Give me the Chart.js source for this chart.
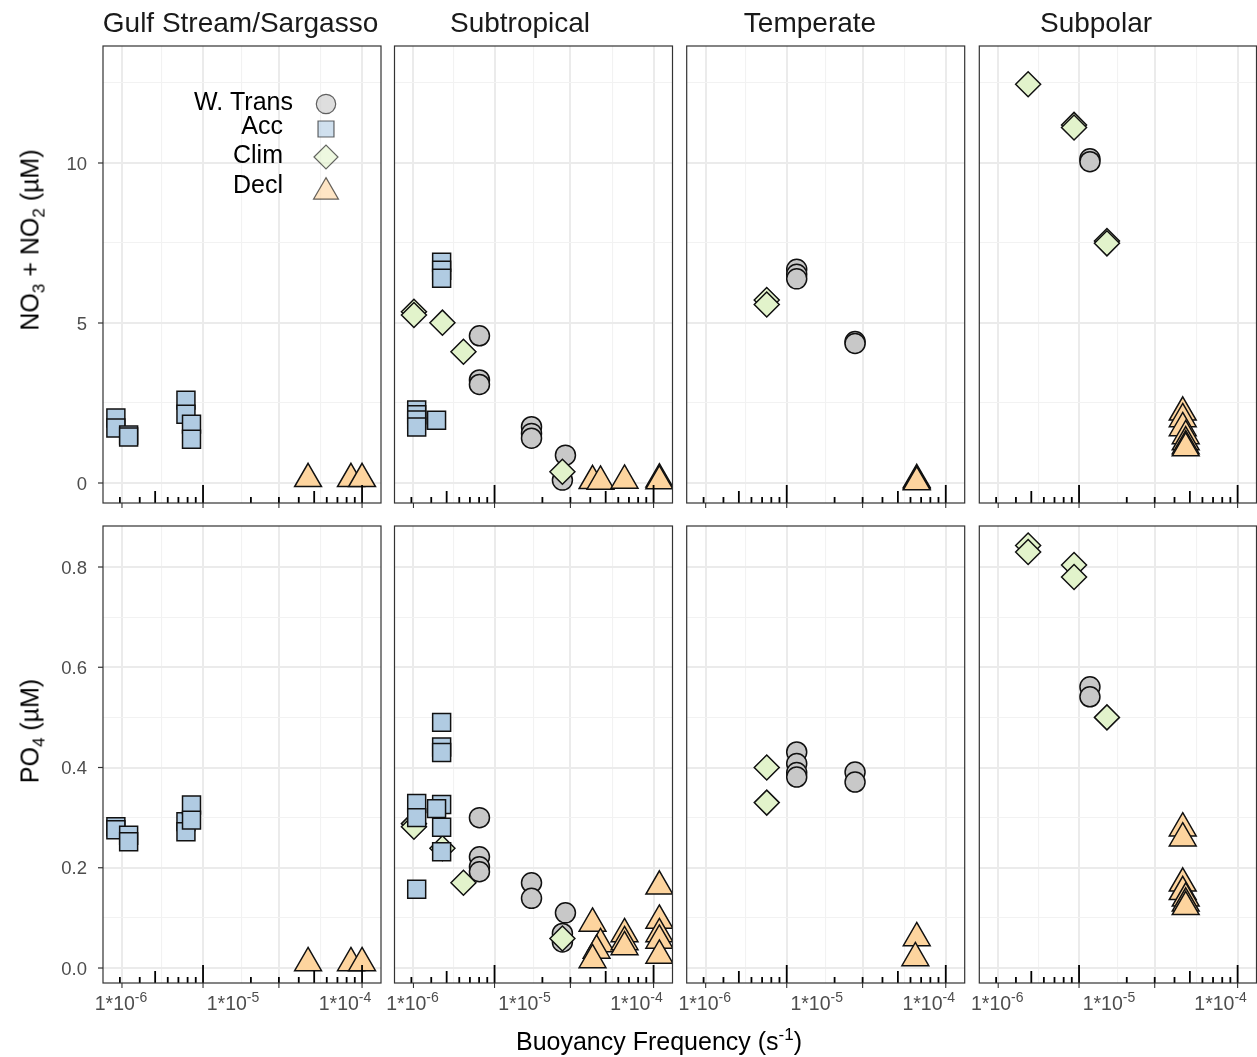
<!DOCTYPE html>
<html>
<head>
<meta charset="utf-8">
<script src="https://cdn.jsdelivr.net/npm/chart.js@4.4.1/dist/chart.umd.min.js"></script>
<style>
  body { margin: 0; background: #fff; font-family: "Liberation Sans", Arial, sans-serif; }
  #page { position: relative; width: 1257px; height: 1057px; overflow: hidden; }
  #page canvas { position: absolute; left: 0; top: 0; }
  .txt { position: absolute; white-space: nowrap; line-height: 1; transform: translate(-50%, -50%); }
  .strip { font-size: 28px; color: #1a1a1a; }
  .axtitle { font-size: 25px; color: #000; }
  .ytitle { transform: translate(-50%, -50%) rotate(-90deg); }
  sub, sup { font-size: 68%; line-height: 0; }
</style>
</head>
<body>
<div id="page">
  <div class="txt strip" style="left:240.5px; top:23px">Gulf Stream/Sargasso</div>
  <div class="txt strip" style="left:520px; top:23px">Subtropical</div>
  <div class="txt strip" style="left:810px; top:23px">Temperate</div>
  <div class="txt strip" style="left:1096px; top:23px">Subpolar</div>
  <div class="txt axtitle ytitle" style="left:30px; top:240px">NO<sub>3</sub> + NO<sub>2</sub> (µM)</div>
  <div class="txt axtitle ytitle" style="left:30px; top:731px">PO<sub>4</sub> (µM)</div>
  <div class="txt axtitle" style="left:659px; top:1041px">Buoyancy Frequency (s<sup>-1</sup>)</div>
</div>
<script>
const phases = ['W. Trans', 'Acc', 'Clim', 'Decl'];

// rows are [phase, buoyancy frequency (s^-1), concentration (µM)]
const gulfNitrate = [
  ['Acc', 9.0e-7, 2.03], ['Acc', 9.0e-7, 1.72], ['Acc', 1.17e-6, 1.50], ['Acc', 1.17e-6, 1.44],
  ['Acc', 3.8e-6, 2.59], ['Acc', 3.8e-6, 2.15], ['Acc', 4.26e-6, 1.84], ['Acc', 4.26e-6, 1.37],
  ['Decl', 4.68e-5, 0.13], ['Decl', 1.13e-4, 0.13], ['Decl', 1.42e-4, 0.13]
];
const gulfPhosphate = [
  ['Acc', 9.0e-7, 0.282], ['Acc', 9.0e-7, 0.276], ['Acc', 1.17e-6, 0.265], ['Acc', 1.17e-6, 0.252],
  ['Acc', 3.8e-6, 0.292], ['Acc', 3.8e-6, 0.272], ['Acc', 4.26e-6, 0.325], ['Acc', 4.26e-6, 0.295],
  ['Decl', 4.68e-5, 0.010], ['Decl', 1.13e-4, 0.010], ['Decl', 1.42e-4, 0.010]
];
const subtropNitrate = [
  ['W. Trans', 3.96e-6, 4.60], ['W. Trans', 3.96e-6, 3.22], ['W. Trans', 3.96e-6, 3.08],
  ['W. Trans', 1.155e-5, 1.76], ['W. Trans', 1.155e-5, 1.55], ['W. Trans', 1.155e-5, 1.40],
  ['W. Trans', 2.32e-5, 0.87], ['W. Trans', 2.18e-5, 0.09],
  ['Acc', 1.82e-6, 6.90], ['Acc', 1.82e-6, 6.65], ['Acc', 1.82e-6, 6.40],
  ['Acc', 1.09e-6, 2.28], ['Acc', 1.09e-6, 2.13], ['Acc', 1.09e-6, 1.97], ['Acc', 1.09e-6, 1.75],
  ['Acc', 1.64e-6, 1.96],
  ['Clim', 1.03e-6, 5.35], ['Clim', 1.03e-6, 5.25], ['Clim', 1.85e-6, 5.01], ['Clim', 2.85e-6, 4.10],
  ['Clim', 2.18e-5, 0.35],
  ['Decl', 4.05e-5, 0.07], ['Decl', 4.77e-5, 0.05], ['Decl', 7.82e-5, 0.08],
  ['Decl', 1.6e-4, 0.12], ['Decl', 1.6e-4, 0.06]
];
const subtropPhosphate = [
  ['W. Trans', 3.96e-6, 0.300], ['W. Trans', 3.96e-6, 0.222], ['W. Trans', 3.96e-6, 0.202],
  ['W. Trans', 3.96e-6, 0.192], ['W. Trans', 1.155e-5, 0.170], ['W. Trans', 1.155e-5, 0.139],
  ['W. Trans', 2.32e-5, 0.110], ['W. Trans', 2.18e-5, 0.069], ['W. Trans', 2.18e-5, 0.052],
  ['Acc', 1.82e-6, 0.490], ['Acc', 1.82e-6, 0.441], ['Acc', 1.82e-6, 0.430], ['Acc', 1.82e-6, 0.326],
  ['Acc', 1.64e-6, 0.318], ['Acc', 1.82e-6, 0.281], ['Acc', 1.82e-6, 0.232],
  ['Acc', 1.09e-6, 0.328], ['Acc', 1.09e-6, 0.300], ['Acc', 1.09e-6, 0.157],
  ['Clim', 1.03e-6, 0.288], ['Clim', 1.03e-6, 0.282], ['Clim', 1.85e-6, 0.239], ['Clim', 2.85e-6, 0.170],
  ['Clim', 2.18e-5, 0.059],
  ['Decl', 4.05e-5, 0.089], ['Decl', 4.77e-5, 0.048], ['Decl', 4.4e-5, 0.035], ['Decl', 4.05e-5, 0.016],
  ['Decl', 7.82e-5, 0.068], ['Decl', 7.82e-5, 0.052], ['Decl', 7.82e-5, 0.042],
  ['Decl', 1.6e-4, 0.163], ['Decl', 1.6e-4, 0.095], ['Decl', 1.6e-4, 0.068], ['Decl', 1.6e-4, 0.055],
  ['Decl', 1.6e-4, 0.025]
];
const temperateNitrate = [
  ['W. Trans', 6.63e-6, 6.68], ['W. Trans', 6.63e-6, 6.52], ['W. Trans', 6.63e-6, 6.38],
  ['W. Trans', 2.2e-5, 4.42], ['W. Trans', 2.2e-5, 4.36],
  ['Clim', 3.58e-6, 5.72], ['Clim', 3.58e-6, 5.58],
  ['Decl', 7.82e-5, 0.10], ['Decl', 7.82e-5, 0.06], ['Decl', 7.82e-5, 0.03]
];
const temperatePhosphate = [
  ['W. Trans', 6.63e-6, 0.431], ['W. Trans', 6.63e-6, 0.408], ['W. Trans', 6.63e-6, 0.390],
  ['W. Trans', 6.63e-6, 0.381], ['W. Trans', 2.2e-5, 0.391], ['W. Trans', 2.2e-5, 0.371],
  ['Clim', 3.58e-6, 0.400], ['Clim', 3.58e-6, 0.330],
  ['Decl', 7.82e-5, 0.060], ['Decl', 7.6e-5, 0.020]
];
const subpolarNitrate = [
  ['W. Trans', 6.76e-6, 10.13], ['W. Trans', 6.76e-6, 10.04],
  ['Clim', 1.89e-6, 12.46], ['Clim', 4.87e-6, 11.19], ['Clim', 4.87e-6, 11.11],
  ['Clim', 9.6e-6, 7.56], ['Clim', 9.6e-6, 7.49],
  ['Decl', 4.58e-5, 2.21], ['Decl', 4.58e-5, 2.00], ['Decl', 4.58e-5, 1.72], ['Decl', 4.87e-5, 1.47],
  ['Decl', 4.87e-5, 1.28], ['Decl', 4.87e-5, 1.16], ['Decl', 4.87e-5, 1.09]
];
const subpolarPhosphate = [
  ['W. Trans', 6.76e-6, 0.561], ['W. Trans', 6.76e-6, 0.541],
  ['Clim', 1.89e-6, 0.843], ['Clim', 1.89e-6, 0.830], ['Clim', 4.87e-6, 0.804], ['Clim', 4.87e-6, 0.780],
  ['Clim', 9.6e-6, 0.500],
  ['Decl', 4.58e-5, 0.279], ['Decl', 4.58e-5, 0.259], ['Decl', 4.58e-5, 0.169], ['Decl', 4.58e-5, 0.152],
  ['Decl', 4.87e-5, 0.139], ['Decl', 4.87e-5, 0.129], ['Decl', 4.87e-5, 0.122]
];

const nitrateByRegion = [gulfNitrate, subtropNitrate, temperateNitrate, subpolarNitrate];
const phosphateByRegion = [gulfPhosphate, subtropPhosphate, temperatePhosphate, subpolarPhosphate];

// x axis (shared by every facet)
const xMin = 6.906e-7, xMax = 2.096e-4;
const xLabelExponents = [-6, -5, -4];
const xGridMajor = [1.02e-6, 5.4e-6, 2.57e-5, 1.42e-4];
const xGridMinor = [2.32e-6, 1.2e-5, 6.1e-5];
const logTickAnchors = [5.4e-6, 1.42e-4];
const logTickSpan = 1.42;

// y axes, one per row
const nitrateRange = [-0.625, 13.656];
const nitrateMajor = [0, 5, 10];
const nitrateMinor = [2.5, 7.5, 12.5];
const phosphateRange = [-0.0299, 0.8818];
const phosphateMajor = [0, 0.2, 0.4, 0.6, 0.8];
const phosphateMinor = [0.1, 0.3, 0.5, 0.7];

// marker styles
const phaseFill = ['#c8c8c8', '#b0cbe2', '#e2f3cb', '#fdd49e'];
const phaseShape = ['circle', 'rect', 'rectRot', 'triangle'];
const phaseRadius = [10, 12.7, 12.5, 15.5];
const phaseOrder = [4, 2, 3, 1];

const panelLefts = [103, 394.5, 686.7, 979.3];
const rowTops = [46, 526];
const panelW = 278, panelH = 457;
const pageW = 1257, pageH = 1057;

const labelFont = '19.5px "Liberation Sans", Arial, sans-serif';
const supFont = '14px "Liberation Sans", Arial, sans-serif';
const yLabelFont = '18.5px "Liberation Sans", Arial, sans-serif';

const panelDecor = {
  id: 'panelDecor',
  afterDatasetsDraw(chart, args, opts) {
    const { ctx, chartArea: a } = chart;
    const x = chart.scales.x, y = chart.scales.y;
    ctx.save();

    // log ticks along the bottom edge
    ctx.strokeStyle = '#000';
    ctx.lineWidth = 1.8;
    logTickAnchors.forEach(anchor => {
      const top = Math.log10(anchor);
      for (let m = 2; m <= 10; m++) {
        const px = x.getPixelForValue(Math.pow(10, top - logTickSpan + logTickSpan * Math.log10(m)));
        if (px < a.left || px > a.right) continue;
        const len = m === 10 ? 18 : (m === 5 ? 12 : 6);
        ctx.beginPath();
        ctx.moveTo(px, a.bottom);
        ctx.lineTo(px, a.bottom - len);
        ctx.stroke();
      }
    });

    // axis ticks under the panel
    ctx.strokeStyle = '#333';
    ctx.lineWidth = 1.1;
    xGridMajor.forEach(v => {
      const px = x.getPixelForValue(v);
      ctx.beginPath();
      ctx.moveTo(px, a.bottom);
      ctx.lineTo(px, a.bottom + 5);
      ctx.stroke();
    });

    // panel border
    ctx.strokeStyle = '#333';
    ctx.lineWidth = 1.2;
    ctx.strokeRect(a.left, a.top, a.right - a.left, a.bottom - a.top);

    ctx.fillStyle = '#4d4d4d';
    if (opts.yLabels) {
      ctx.font = yLabelFont;
      ctx.textAlign = 'right';
      ctx.textBaseline = 'alphabetic';
      opts.yMajor.forEach(v => {
        const py = y.getPixelForValue(v);
        ctx.beginPath();
        ctx.moveTo(a.left - 5, py);
        ctx.lineTo(a.left, py);
        ctx.stroke();
        ctx.fillText(opts.yFormat(v), a.left - 16, py + 6.6);
      });
    }

    if (opts.xLabels) {
      ctx.textAlign = 'left';
      xLabelExponents.forEach(e => {
        const px = x.getPixelForValue(Math.pow(10, e));
        ctx.font = labelFont;
        const w1 = ctx.measureText('1*10').width;
        ctx.font = supFont;
        const w2 = ctx.measureText(String(e)).width;
        const start = px - (w1 + w2) / 2;
        const base = a.bottom + 27;
        ctx.font = labelFont;
        ctx.fillText('1*10', start, base);
        ctx.font = supFont;
        ctx.fillText(String(e), start + w1, base - 8.5);
      });
    }

    if (opts.legend) {
      ctx.font = '25px "Liberation Sans", Arial, sans-serif';
      ctx.textAlign = 'right';
      const textRight = [190, 180, 180, 180];
      const textBase = [64, 88, 117, 147];
      const markY = [58, 83, 111, 146];
      const markR = [9.7, 11.3, 12, 14.4];
      phases.forEach((p, k) => {
        ctx.globalAlpha = 1;
        ctx.fillStyle = '#000';
        ctx.fillText(p, a.left + textRight[k], a.top + textBase[k]);
        ctx.globalAlpha = 0.6;
        ctx.fillStyle = phaseFill[k];
        ctx.strokeStyle = '#000';
        ctx.lineWidth = 1.2;
        Chart.helpers.drawPoint(ctx, {
          pointStyle: phaseShape[k], radius: markR[k], rotation: 0, borderWidth: 1.2
        }, a.left + 223, a.top + markY[k]);
      });
    }
    ctx.restore();
  }
};

function gridStyle(majors) {
  return {
    drawTicks: false,
    color: c => majors.includes(c.tick.value) ? '#ebebeb' : '#f2f2f2',
    lineWidth: c => majors.includes(c.tick.value) ? 2 : 1.1
  };
}

const page = document.getElementById('page');

[nitrateByRegion, phosphateByRegion].forEach((rowData, r) => {
  const range = r === 0 ? nitrateRange : phosphateRange;
  const yMajor = r === 0 ? nitrateMajor : phosphateMajor;
  const yMinor = r === 0 ? nitrateMinor : phosphateMinor;
  const yFormat = r === 0 ? v => String(v) : v => v.toFixed(1);

  rowData.forEach((rows, c) => {
    const canvas = document.createElement('canvas');
    canvas.width = pageW;
    canvas.height = pageH;
    page.insertBefore(canvas, page.firstChild);

    const left = panelLefts[c];
    const width = Math.min(panelW, pageW - left - 0.5);
    const top = rowTops[r];

    new Chart(canvas, {
      type: 'scatter',
      data: {
        datasets: phases.map((p, k) => ({
          label: p,
          data: rows.filter(d => d[0] === p).map(d => ({ x: d[1], y: d[2] })),
          pointStyle: phaseShape[k],
          pointRadius: phaseRadius[k],
          pointHoverRadius: phaseRadius[k],
          pointBackgroundColor: phaseFill[k],
          pointBorderColor: '#111',
          pointBorderWidth: 1.5,
          order: phaseOrder[k],
          clip: 0
        }))
      },
      options: {
        responsive: false,
        animation: false,
        devicePixelRatio: 1,
        events: [],
        layout: {
          autoPadding: false,
          padding: { left: left, top: top, right: pageW - left - width, bottom: pageH - top - panelH }
        },
        plugins: {
          legend: { display: false },
          tooltip: { enabled: false },
          panelDecor: {
            legend: r === 0 && c === 0,
            yLabels: c === 0,
            xLabels: r === 1,
            yMajor: yMajor,
            yFormat: yFormat
          }
        },
        scales: {
          x: {
            type: 'logarithmic',
            min: xMin,
            max: xMax,
            afterBuildTicks: s => { s.ticks = xGridMajor.concat(xGridMinor).map(v => ({ value: v })); },
            ticks: { display: false },
            border: { display: false },
            grid: gridStyle(xGridMajor)
          },
          y: {
            type: 'linear',
            min: range[0],
            max: range[1],
            afterBuildTicks: s => { s.ticks = yMajor.concat(yMinor).map(v => ({ value: v })); },
            ticks: { display: false },
            border: { display: false },
            grid: gridStyle(yMajor)
          }
        }
      },
      plugins: [panelDecor]
    });
  });
});
</script>
</body>
</html>
